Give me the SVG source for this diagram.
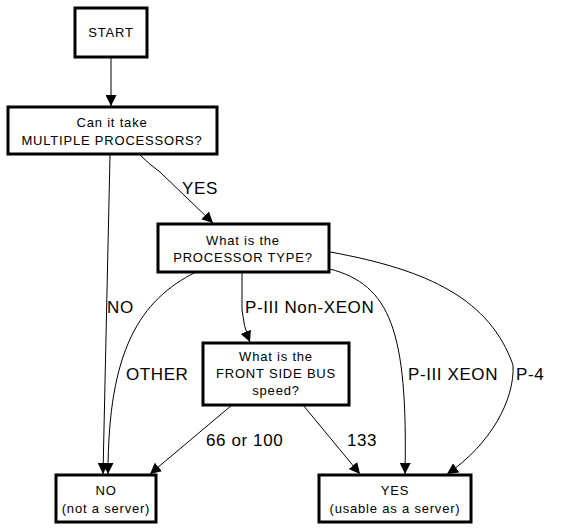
<svg xmlns="http://www.w3.org/2000/svg" width="572" height="530" viewBox="0 0 572 530">
<defs>
<marker id="ah" viewBox="0 0 10 10" refX="10" refY="5" markerWidth="11" markerHeight="11" markerUnits="userSpaceOnUse" orient="auto">
<path d="M0,0 L10,5 L0,10 Z" fill="#000"/>
</marker>
<style>
.box{fill:#fff;stroke:#000;stroke-width:3}
.nt{font-family:"Liberation Sans",Arial,sans-serif;font-size:13px;letter-spacing:0.8px;text-anchor:middle;fill:#000}
.el{font-family:"Liberation Sans",Arial,sans-serif;font-size:17px;letter-spacing:0.6px;fill:#000}
.e{fill:none;stroke:#000;stroke-width:1;marker-end:url(#ah)}
</style>
</defs>
<rect width="572" height="530" fill="#fff"/>
<g id="edges">
<path class="e" d="M111,57 L111,106"/>
<path class="e" d="M140,155 Q150,165 160,172 L213,223"/>
<path class="e" d="M110,155 L103,474"/>
<path class="e" d="M196,272 C140,300 108,350 108,474"/>
<path class="e" d="M242,272 L242,310 Q243,325 250,342"/>
<path class="e" d="M330,269 C390,285 408,330 405,474"/>
<path class="e" d="M330,252 C430,270 490,300 513,365 C515,400 490,445 447,474"/>
<path class="e" d="M232,405 L150,474"/>
<path class="e" d="M303,405 L360,474"/>
<text class="el" x="182" y="194">YES</text>
<text class="el" x="107" y="313">NO</text>
<text class="el" x="126" y="380">OTHER</text>
<text class="el" x="245" y="313">P-III Non-XEON</text>
<text class="el" x="408" y="380">P-III XEON</text>
<text class="el" x="516" y="380">P-4</text>
<text class="el" x="206" y="446">66 or 100</text>
<text class="el" x="347" y="446">133</text>
</g>
<g id="start"><rect class="box" x="75" y="8" width="72" height="49"/><text class="nt" x="111" y="37">START</text></g>
<g id="multi"><rect class="box" x="8" y="107" width="209" height="47"/><text class="nt" x="112" y="127">Can it take</text><text class="nt" x="112" y="145">MULTIPLE PROCESSORS?</text></g>
<g id="ptype"><rect class="box" x="158" y="224" width="171" height="48"/><text class="nt" x="243" y="245">What is the</text><text class="nt" x="243" y="262">PROCESSOR TYPE?</text></g>
<g id="fsb"><rect class="box" x="203" y="343" width="146" height="62"/><text class="nt" x="276" y="361">What is the</text><text class="nt" x="276" y="378">FRONT SIDE BUS</text><text class="nt" x="276" y="395">speed?</text></g>
<g id="no"><rect class="box" x="56" y="475" width="100" height="47"/><text class="nt" x="106" y="495">NO</text><text class="nt" x="106" y="513">(not a server)</text></g>
<g id="yes"><rect class="box" x="319" y="475" width="152" height="47"/><text class="nt" x="395" y="495">YES</text><text class="nt" x="395" y="513">(usable as a server)</text></g>
</svg>
